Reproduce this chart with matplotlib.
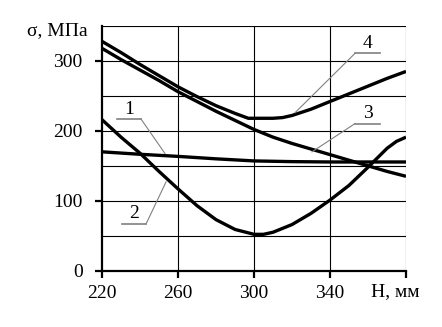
import matplotlib
matplotlib.use("Agg")
import matplotlib.pyplot as plt

plt.rcParams['font.family'] = ['Liberation Serif', 'DejaVu Serif']

# stress curves, sigma (MPa) vs H (mm)
h1 = [220, 240, 260, 280, 300, 320, 340, 360, 380]
s1 = [170, 166.5, 163.5, 160, 157, 156, 155.5, 155.5, 155.5]

h2 = [220, 230, 240, 250, 260, 270, 280, 290, 300, 305, 310, 320, 330, 340, 350, 360, 370, 375, 380]
s2 = [216, 191, 168, 142, 117, 93, 73, 59, 52, 52, 55, 66, 82, 101, 122, 148, 175, 185, 191]

h3 = [220, 230, 240, 250, 260, 270, 280, 290, 300, 310, 320, 330, 340, 350, 360, 370, 380]
s3 = [318, 302, 287, 272, 256, 242, 228, 215, 202, 191, 182, 174, 166, 158, 150, 142, 135]

h4 = [220, 230, 240, 250, 260, 270, 280, 290, 297, 300, 310, 315, 320, 330, 340, 350, 360, 370, 380]
s4 = [328, 312, 295, 279, 263, 249, 236, 225, 218, 218, 218, 219, 222, 231, 242, 253, 264, 275, 285]

xticks = [220, 260, 300, 340]
yticks = [0, 100, 200, 300]

fig = plt.figure(figsize=(4.42, 3.27), dpi=100)
ax = fig.add_axes([0.2308, 0.1722, 0.6878, 0.7483])

for h, s in [(h1, s1), (h2, s2), (h3, s3), (h4, s4)]:
    ax.plot(h, s, color='black', lw=2.4, solid_capstyle='butt', zorder=3)

ax.set_xlim(220, 380)
ax.set_ylim(0, 350)

# grid every 40 mm / 50 MPa
for gx in [260, 300, 340, 380]:
    ax.axvline(gx, color='black', lw=0.8, zorder=1)
for gy in range(50, 351, 50):
    ax.axhline(gy, color='black', lw=0.8, zorder=1)

for side in ['top', 'right']:
    ax.spines[side].set_visible(False)
for side in ['left', 'bottom']:
    ax.spines[side].set_linewidth(1.6)

ax.set_xticks(xticks + [380])
ax.set_xticklabels([str(v) for v in xticks] + [''])
ax.set_yticks(yticks)
ax.set_yticklabels([str(v) for v in yticks])
ax.tick_params(axis='both', direction='out', length=5, width=1.6, labelsize=14)
ax.tick_params(axis='x', pad=5)
ax.tick_params(axis='y', pad=9)

fig.text(0.061, 0.905, 'σ, МПа', fontsize=14, ha='left', va='center')
fig.text(0.84, 0.108, 'H, мм', fontsize=14, ha='left', va='center')

# curve labels with leader lines
leaders = [
    ('1', (227.9, 240.5), 217, (253.2, 167.4), 'right'),
    ('2', (230.5, 243.2), 67, (253.7, 127), 'right'),
    ('4', (353.2, 366.3), 311, (321.6, 226), 'left'),
    ('3', (353.2, 366.3), 210.5, (330.5, 170), 'left'),
]
for txt, (xa, xb), yl, (xe, ye), start in leaders:
    ax.plot([xa, xb], [yl, yl], color='#808080', lw=1.2, clip_on=False, zorder=4)
    xs = xb if start == 'right' else xa
    ax.plot([xs, xe], [yl, ye], color='#808080', lw=0.8, clip_on=False, zorder=4)
    ax.text((xa + xb) / 2, yl + 2, txt, fontsize=14, ha='center', va='bottom')

fig.savefig('out.png', dpi=100)
